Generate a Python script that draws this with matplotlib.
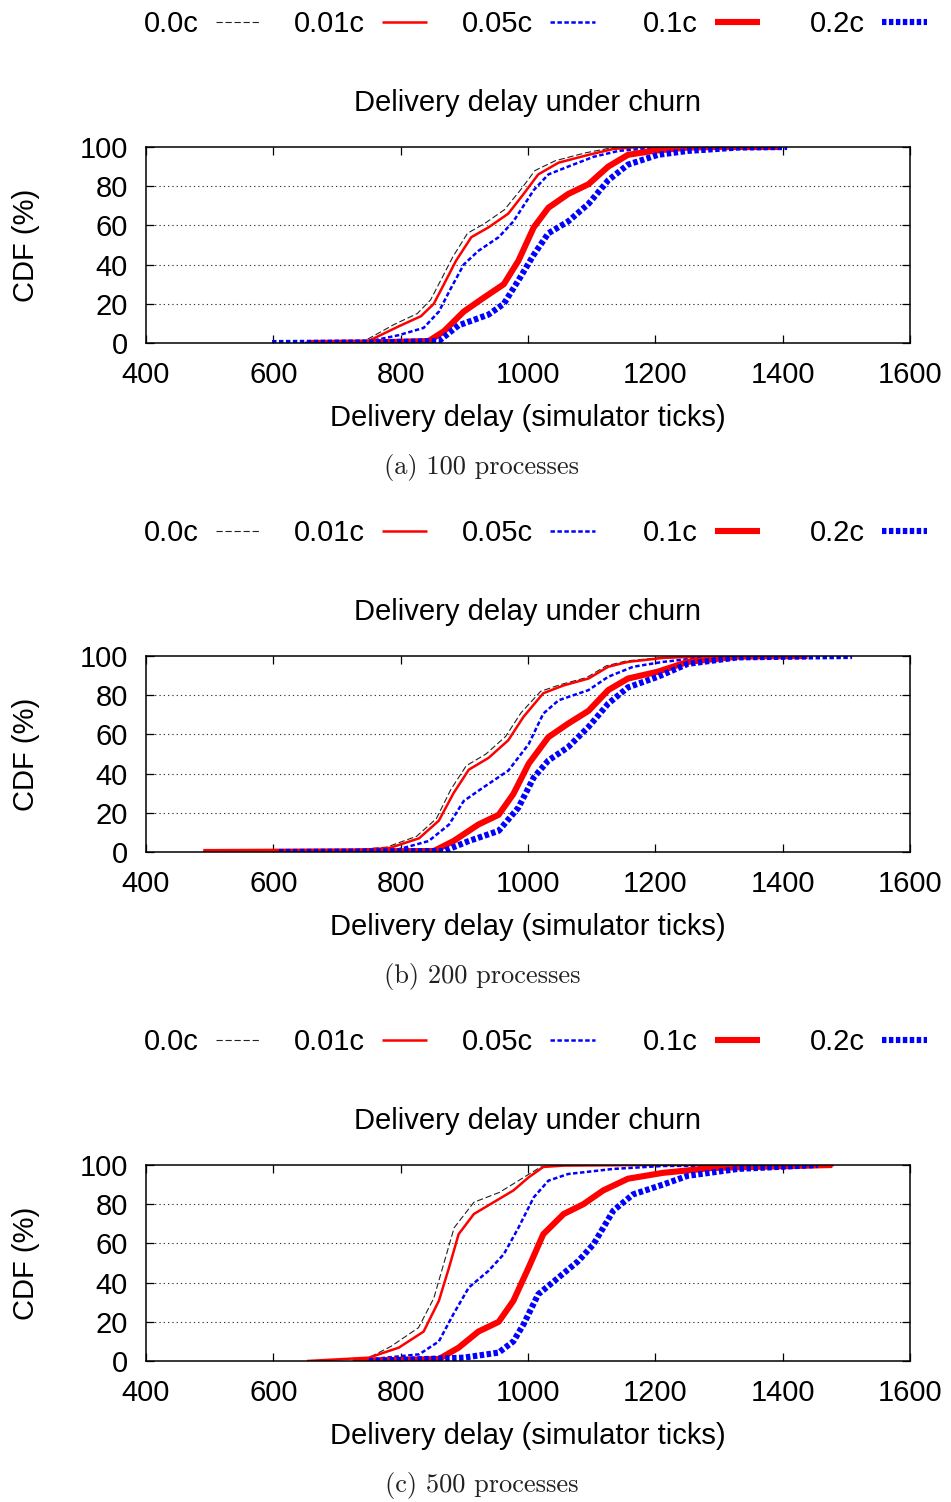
import matplotlib
matplotlib.use("Agg")
import matplotlib.pyplot as plt
from matplotlib.lines import Line2D

plt.rcParams["font.family"] = ["Liberation Sans", "DejaVu Sans"]
plt.rcParams["lines.scale_dashes"] = False

# ---------------------------------------------------------------- data
CHURN_LABELS = ["0.0c", "0.01c", "0.05c", "0.1c", "0.2c"]
CAPTIONS = ["(a) 100 processes", "(b) 200 processes", "(c) 500 processes"]
X_TICKS = [400, 600, 800, 1000, 1200, 1400, 1600]
Y_TICKS = [0, 20, 40, 60, 80, 100]

# 100 processes: delivery delay (ticks) vs CDF (%)
P100_C00_X = [650, 740, 790, 826, 847, 863, 882, 905, 932, 963, 988, 1011, 1043, 1090, 1130, 1170, 1250, 1390]
P100_C00_Y = [0, 0.5, 9.5, 15, 22, 32, 44, 56, 61, 68, 78, 88, 93, 97, 99.5, 100, 100, 100]
P100_C01_X = [650, 746, 797, 832, 852, 868, 887, 911, 938, 969, 993, 1016, 1048, 1095, 1134, 1173, 1250, 1390]
P100_C01_Y = [0, 0.5, 8.5, 13.7, 20, 30, 42, 54, 59, 66, 76, 86, 92, 96, 99, 100, 100, 100]
P100_C05_X = [650, 746, 797, 836, 860, 879, 899, 922, 954, 977, 1009, 1032, 1063, 1103, 1142, 1212, 1300, 1390]
P100_C05_Y = [0, 0.5, 4, 7.7, 16, 28, 40, 47, 54, 62, 78, 86, 90, 95, 98, 100, 100, 100]
P100_C10_X = [653, 760, 844, 868, 899, 930, 962, 985, 1009, 1032, 1063, 1095, 1126, 1157, 1196, 1251, 1300, 1397]
P100_C10_Y = [0, 0.3, 1, 6, 16, 23, 30, 42, 59, 69, 76, 81, 90, 96, 98, 99.7, 100, 100]
P100_C20_X = [598, 760, 860, 891, 938, 962, 985, 1009, 1032, 1063, 1095, 1126, 1157, 1204, 1251, 1330, 1407]
P100_C20_Y = [0, 0.3, 1, 9, 14.5, 20, 32, 45, 56, 62, 71, 83, 91, 96, 98, 99.7, 100]

# 200 processes
P200_C00_X = [600, 700, 778, 825, 856, 879, 903, 934, 965, 989, 1020, 1052, 1092, 1123, 1155, 1210, 1290, 1439]
P200_C00_Y = [0, 0.3, 2.5, 8, 17, 32, 44, 50, 59, 71, 82, 85.5, 89, 95, 97.5, 99.2, 100, 100]
P200_C01_X = [490, 700, 782, 829, 860, 883, 907, 938, 969, 993, 1024, 1056, 1095, 1126, 1157, 1212, 1290, 1439]
P200_C01_Y = [0, 0.3, 2, 7, 16, 30, 42, 48, 57, 69, 81, 85, 88.5, 94.5, 97, 99, 100, 100]
P200_C05_X = [609, 797, 844, 876, 899, 930, 969, 1001, 1024, 1048, 1095, 1126, 1165, 1212, 1290, 1439]
P200_C05_Y = [0, 1.4, 5.6, 14, 26, 33, 41.5, 55, 70.6, 77.4, 82.6, 89.4, 94.5, 97, 99.7, 100]
P200_C10_X = [490, 852, 883, 922, 954, 977, 1001, 1032, 1063, 1095, 1126, 1157, 1204, 1251, 1330, 1439]
P200_C10_Y = [0, 0.5, 5.6, 14, 19, 29.6, 45, 58.6, 65.5, 72, 82.6, 88.5, 92, 97, 99.7, 100]
P200_C20_X = [609, 868, 907, 954, 985, 1009, 1032, 1063, 1095, 1126, 1157, 1204, 1251, 1330, 1509]
P200_C20_Y = [0, 0.5, 5.6, 10.8, 22.7, 38, 46.7, 53.5, 63.8, 75.7, 84, 89.4, 96, 99.3, 100]

# 500 processes
P500_C00_X = [740, 785, 828, 852, 868, 884, 915, 955, 985, 1020, 1060, 1200]
P500_C00_Y = [0, 7.5, 17, 32, 50, 68, 81, 86, 92, 99, 99.7, 100]
P500_C01_X = [653, 750, 797, 836, 860, 876, 891, 915, 946, 977, 1001, 1024, 1056, 1200, 1480]
P500_C01_Y = [0, 1.7, 6.8, 15, 30.7, 47.7, 64.7, 75, 81, 87, 93.7, 99, 99.7, 100, 100]
P500_C05_X = [725, 829, 860, 883, 907, 938, 962, 985, 1009, 1032, 1063, 1134, 1212, 1480]
P500_C05_Y = [0, 3.4, 10, 24, 37.5, 46, 54.5, 68, 83.5, 92, 95.4, 98, 99.5, 100]
P500_C10_X = [725, 860, 891, 922, 954, 977, 1001, 1024, 1056, 1087, 1118, 1157, 1212, 1290, 1478]
P500_C10_Y = [0, 1, 6.8, 15, 20, 30.7, 47.7, 64.7, 75, 80, 87, 93, 96, 98.5, 100]
P500_C20_X = [750, 899, 954, 977, 993, 1016, 1048, 1079, 1103, 1134, 1165, 1212, 1251, 1330, 1455]
P500_C20_Y = [0, 1.7, 4.3, 10, 18.7, 34, 42.6, 51, 59.6, 76.7, 85, 90, 94.5, 98, 100]

PANELS = [
    [(P100_C00_X, P100_C00_Y), (P100_C01_X, P100_C01_Y), (P100_C05_X, P100_C05_Y),
     (P100_C10_X, P100_C10_Y), (P100_C20_X, P100_C20_Y)],
    [(P200_C00_X, P200_C00_Y), (P200_C01_X, P200_C01_Y), (P200_C05_X, P200_C05_Y),
     (P200_C10_X, P200_C10_Y), (P200_C20_X, P200_C20_Y)],
    [(P500_C00_X, P500_C00_Y), (P500_C01_X, P500_C01_Y), (P500_C05_X, P500_C05_Y),
     (P500_C10_X, P500_C10_Y), (P500_C20_X, P500_C20_Y)],
]

# ---------------------------------------------------------------- styles
STYLES = [
    dict(color="#222222", lw=0.8, dashes=(4.5, 2.0)),
    dict(color="#ff0000", lw=1.8, solid_capstyle="butt", solid_joinstyle="round"),
    dict(color="#0000ff", lw=1.8, dashes=(3.2, 1.8), dash_joinstyle="round"),
    dict(color="#ff0000", lw=4.4, solid_capstyle="butt", solid_joinstyle="round"),
    dict(color="#0000ff", lw=4.4, dashes=(3.2, 1.8), dash_joinstyle="round"),
]

W, H = 951, 1502
FS = 21
fig = plt.figure(figsize=(W / 100, H / 100), dpi=100)


def fx(x):
    return x / W


def fy(y):
    return 1 - y / H


LEG_TEXT_RIGHT = [199, 365, 533, 698, 865]
PANEL_STEP = 509

for k, series in enumerate(PANELS):
    off = k * PANEL_STEP
    # legend row above each panel
    for i, lab in enumerate(CHURN_LABELS):
        xr = LEG_TEXT_RIGHT[i]
        fig.text(fx(xr), fy(32 + off), lab, ha="right", va="baseline", fontsize=FS)
        st = dict(STYLES[i])
        fig.add_artist(Line2D([fx(xr + 17), fx(xr + 62)], [fy(22 + off), fy(22 + off)],
                              transform=fig.transFigure, **st))

    fig.text(fx(528), fy(111 + off), "Delivery delay under churn", ha="center",
             va="baseline", fontsize=FS)

    left, right, top, bottom = 146, 910, 147 + off, 343 + off
    ax = fig.add_axes([fx(left), fy(bottom), fx(right - left), (bottom - top) / H])
    for (xs, ys), st in zip(series, STYLES):
        ax.plot(xs, ys, **st)

    ax.set_xlim(400, 1600)
    ax.set_ylim(0, 100)
    ax.set_xticks(X_TICKS)
    ax.set_yticks(Y_TICKS)
    ax.tick_params(direction="in", length=6, width=0.9, top=True, right=True,
                   labelsize=FS, pad=13)
    for sp in ax.spines.values():
        sp.set_linewidth(1.1)
    for yv in Y_TICKS[1:-1]:
        ax.axhline(yv, color="#333333", lw=0.8, dashes=(0.9, 2.2), zorder=0.5)

    fig.text(fx(528), fy(426 + off), "Delivery delay (simulator ticks)", ha="center",
             va="baseline", fontsize=FS)
    fig.text(fx(26), fy(245 + off), "CDF (%)", rotation=90, ha="center", va="center",
             fontsize=FS)
    fig.text(fx(482), fy(474 + off), CAPTIONS[k], ha="center", va="baseline",
             fontsize=19, family="cmr10", color="#222222")

fig.savefig("out.png", dpi=100)
